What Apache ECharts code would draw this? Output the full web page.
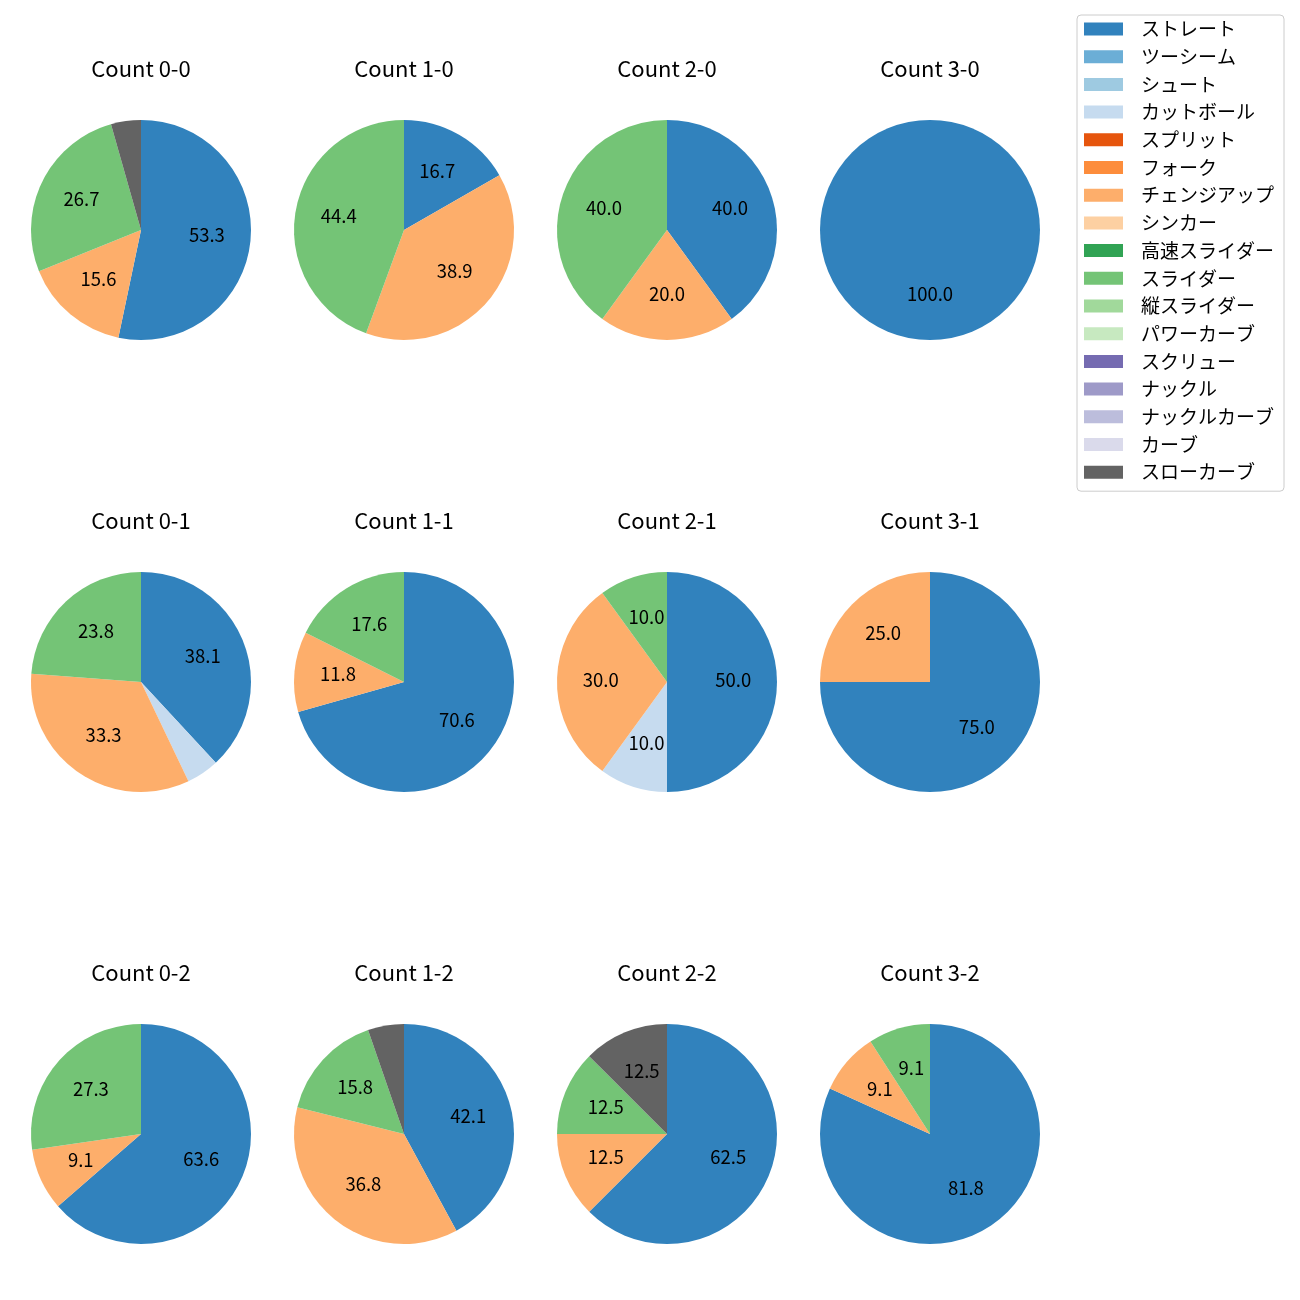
<!DOCTYPE html>
<html>
<head>
<meta charset="utf-8">
<script src="https://cdn.jsdelivr.net/npm/echarts@6/dist/echarts.min.js"></script>
<style>html,body{margin:0;padding:0;background:#fff}#c{width:1300px;height:1300px}</style>
</head>
<body>
<div id="c"></div>
<script>
// Pitch types (legend order) and colors
const pitchTypes = ['ストレート','ツーシーム','シュート','カットボール','スプリット','フォーク','チェンジアップ','シンカー','高速スライダー','スライダー','縦スライダー','パワーカーブ','スクリュー','ナックル','ナックルカーブ','カーブ','スローカーブ'];
const pitchColors = ['#3182bd','#6baed6','#9ecae1','#c6dbef','#e6550d','#fd8d3c','#fdae6b','#fdd0a2','#31a354','#74c476','#a1d99b','#c7e9c0','#756bb1','#9e9ac8','#bcbddc','#dadaeb','#636363'];

// Ball-strike counts (panel order, row by row)
const countLabels = ['0-0','1-0','2-0','3-0','0-1','1-1','2-1','3-1','0-2','1-2','2-2','3-2'];

// Percent share per count, aligned with countLabels
const straight  = [53.3, 16.7, 40.0, 100.0, 38.1, 70.6, 50.0, 75.0, 63.6, 42.1, 62.5, 81.8];
const cutter    = [0, 0, 0, 0, 4.8, 0, 10.0, 0, 0, 0, 0, 0];
const changeup  = [15.6, 38.9, 20.0, 0, 33.3, 11.8, 30.0, 25.0, 9.1, 36.8, 12.5, 9.1];
const slider    = [26.7, 44.4, 40.0, 0, 23.8, 17.6, 10.0, 0, 27.3, 15.8, 12.5, 9.1];
const slowcurve = [4.4, 0, 0, 0, 0, 0, 0, 0, 0, 5.3, 12.5, 0];

const seriesByPitch = {
  'ストレート': straight,
  'カットボール': cutter,
  'チェンジアップ': changeup,
  'スライダー': slider,
  'スローカーブ': slowcurve
};

const FONT = '"Noto Sans CJK JP", "Noto Sans", sans-serif';
const colX = [141, 404, 667, 930];
const rowY = [230, 682, 1134];
const R = 110;

const series = [];
const graphics = [];

countLabels.forEach((lab, i) => {
  const cx = colX[i % 4], cy = rowY[Math.floor(i / 4)];
  const data = [];
  pitchTypes.forEach((p, k) => {
    const arr = seriesByPitch[p];
    if (arr && arr[i] > 0) {
      data.push({ name: p, value: arr[i], itemStyle: { color: pitchColors[k] } });
    }
  });
  series.push({
    type: 'pie', center: [cx, cy], radius: [0, R], startAngle: 90, clockwise: true,
    silent: true, animation: false, avoidLabelOverlap: false,
    itemStyle: { borderWidth: 0 },
    label: { show: false }, labelLine: { show: false },
    emphasis: { disabled: true },
    data: data
  });
  series.push({
    type: 'pie', center: [cx, cy], radius: [R * 0.15, R], startAngle: 90, clockwise: true,
    silent: true, animation: false, avoidLabelOverlap: false,
    itemStyle: { color: 'rgba(0,0,0,0)', borderWidth: 0 },
    label: {
      show: true, position: 'inside', color: '#000', fontSize: 18.5, fontFamily: FONT,
      offset: [0, -2],
      formatter: (p) => p.value < 6 ? '' : p.value.toFixed(1)
    },
    labelLine: { show: false },
    emphasis: { disabled: true },
    data: data.map(d => ({ name: d.name, value: d.value, itemStyle: { color: 'rgba(0,0,0,0)' } }))
  });
  graphics.push({
    type: 'text', x: cx, y: cy - 161,
    style: { text: 'Count ' + lab, textAlign: 'center', textVerticalAlign: 'middle', fill: '#000', fontSize: 22, fontFamily: FONT }
  });
});

// legend-only series carrying all pitch types
series.push({
  type: 'pie', center: [-100, -100], radius: [0, 0], silent: true, animation: false,
  label: { show: false }, labelLine: { show: false },
  data: pitchTypes.map((p, k) => ({ name: p, value: 1, itemStyle: { color: pitchColors[k] } }))
});

const chart = echarts.init(document.getElementById('c'), null, { renderer: 'canvas' });
chart.setOption({
  backgroundColor: '#fff',
  animation: false,
  legend: {
    orient: 'vertical', left: 1077, top: 15,
    data: pitchTypes, icon: 'rect', itemWidth: 39, itemHeight: 13, itemGap: 7.7,
    padding: [4, 10, 9, 7],
    borderColor: '#cccccc', borderWidth: 1, borderRadius: 4,
    selectedMode: false,
    textStyle: { fontSize: 19, lineHeight: 20, color: '#000', fontFamily: FONT, padding: [0, 0, 0, 13] }
  },
  graphic: graphics,
  series: series
});
</script>
</body>
</html>
